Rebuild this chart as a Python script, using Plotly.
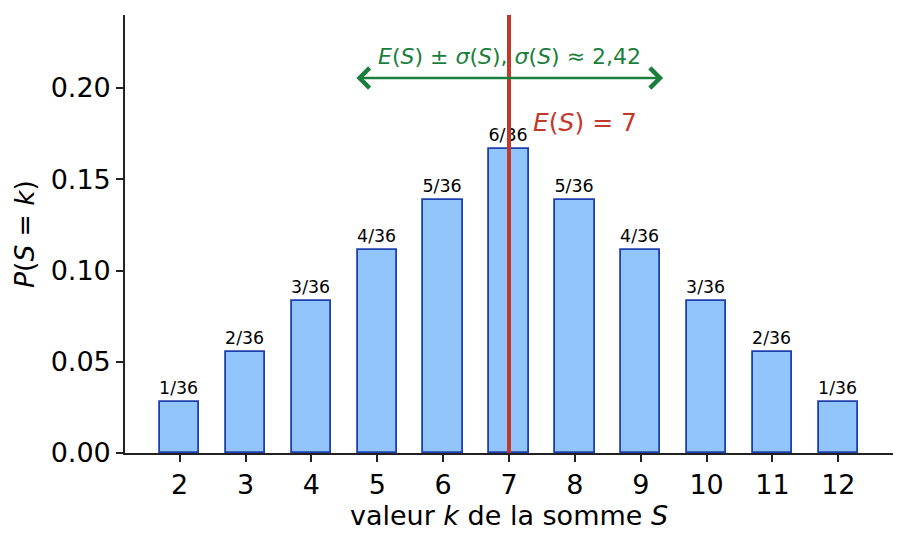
import plotly.graph_objects as go

# Data
sums_k = [2, 3, 4, 5, 6, 7, 8, 9, 10, 11, 12]
counts = [1, 2, 3, 4, 5, 6, 5, 4, 3, 2, 1]
total = 36
probs = [c / total for c in counts]
bar_labels = [f"{c}/{total}" for c in counts]
y_ticks = [0.00, 0.05, 0.10, 0.15, 0.20]
mean_S = 7
sigma_S = 2.42
arrow_y = 0.2055
label_y = 0.217
mean_label_y = 0.181

FONT = "DejaVu Sans"
RED = "#c0392b"
GREEN = "#1a7f3c"

fig = go.Figure()
fig.add_trace(go.Bar(
    x=sums_k, y=probs, width=0.6,
    marker=dict(color="#93c5fd", line=dict(color="#1e40af", width=1.8)),
    text=bar_labels, textposition="outside",
    textfont=dict(family=FONT, size=17.5, color="black"),
    cliponaxis=False,
))

# vertical mean line
fig.add_shape(type="line", x0=mean_S, x1=mean_S, xref="x", y0=0, y1=1, yref="paper",
              line=dict(color=RED, width=4), layer="above")

# double arrow mean ± sigma
fig.add_annotation(x=mean_S + sigma_S - 0.08, y=arrow_y, ax=mean_S - sigma_S + 0.08, ay=arrow_y,
                   xref="x", yref="y", axref="x", ayref="y", text="",
                   showarrow=True, arrowhead=4, startarrowhead=4, arrowside="end+start",
                   arrowsize=1.5, startarrowsize=1.5, arrowwidth=2.6, arrowcolor=GREEN)
fig.add_annotation(x=mean_S, y=label_y, xref="x", yref="y", showarrow=False,
                   text="<i>E</i>(<i>S</i>) ± <i>σ</i>(<i>S</i>), <i>σ</i>(<i>S</i>) ≈ 2,42",
                   font=dict(family=FONT, size=22, color=GREEN), xanchor="center", yanchor="middle")
fig.add_annotation(x=mean_S + 0.33, y=mean_label_y, xref="x", yref="y", showarrow=False,
                   text="<i>E</i>(<i>S</i>) = 7",
                   font=dict(family=FONT, size=25, color=RED), xanchor="left", yanchor="middle")

# page body has an 8px margin: size the figure so the plot lands where the reference has it
fig.update_layout(
    width=899, height=538,
    margin=dict(l=117, r=14, t=7, b=93),
    plot_bgcolor="white", paper_bgcolor="white",
    showlegend=False,
    font=dict(family=FONT, color="black"),
    bargap=0,
)
fig.update_xaxes(
    range=[1.17, 12.83], tickmode="array", tickvals=sums_k, ticktext=[str(k) for k in sums_k],
    showgrid=False, zeroline=False, showline=True, linecolor="#222", linewidth=1.6,
    ticks="outside", ticklen=7, tickwidth=1.6, tickcolor="#222",
    tickfont=dict(family=FONT, size=27),
    title=dict(text="valeur <i>k</i> de la somme <i>S</i>", font=dict(family=FONT, size=27), standoff=6),
)
fig.update_yaxes(
    range=[0, 0.24], tickmode="array", tickvals=y_ticks, ticktext=[f"{v:.2f}" for v in y_ticks],
    showgrid=False, zeroline=False, showline=True, linecolor="#222", linewidth=1.6,
    ticks="outside", ticklen=7, tickwidth=1.6, tickcolor="#222",
    tickfont=dict(family=FONT, size=27),
    title=dict(text="<i>P</i>(<i>S</i> = <i>k</i>)", font=dict(family=FONT, size=26.5), standoff=8),
)

fig.write_html("out.html")
